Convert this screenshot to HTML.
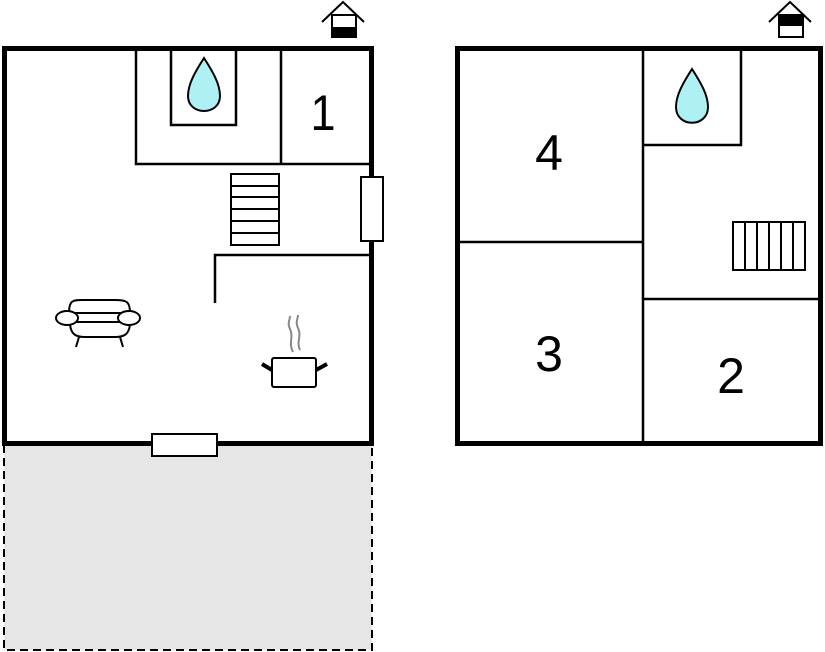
<!DOCTYPE html>
<html><head><meta charset="utf-8"><style>
html,body{margin:0;padding:0;background:#fff;}
svg{display:block;}
text{font-family:"Liberation Sans",Arial,sans-serif;}
</style></head><body>
<svg width="825" height="652" viewBox="0 0 825 652" xmlns="http://www.w3.org/2000/svg">
<!-- terrace -->
<rect x="4" y="445" width="368" height="205" fill="#e6e6e6"/>
<path d="M4 445 V650 H372 V445" fill="none" stroke="#000" stroke-width="2" stroke-dasharray="8,5"/>
<!-- left plan -->
<g fill="none" stroke="#000">
<rect x="4.5" y="48.5" width="367" height="395" stroke-width="5"/>
<path d="M136 48 V164 H372 M281 48 V164 M171 48 V125 H236 V48" stroke-width="2.5"/>
<path d="M215 303 V255 H372" stroke-width="2.5"/>
<rect x="231" y="174" width="48" height="71" fill="#fff" stroke-width="2"/>
<path d="M231 186 H279 M231 197 H279 M231 209 H279 M231 221 H279 M231 233 H279" stroke-width="2"/>
<rect x="361" y="177" width="22" height="64" fill="#fff" stroke-width="2"/>
<rect x="152" y="434" width="65" height="22" fill="#fff" stroke-width="2"/>
</g>
<path d="M204 58 C195 72 188 84 188 96 C188 116 220 116 220 96 C220 84 213 72 204 58 Z" fill="#aef0f4" stroke="#000" stroke-width="2"/>
<text x="323" y="130" font-size="50" text-anchor="middle" transform="translate(323 0) scale(0.9 1) translate(-323 0)">1</text>
<!-- sofa -->
<g fill="#fff" stroke="#000" stroke-width="2">
<path d="M69 313 C69 299 74 300 85 300 H115 C126 300 130 301 130 313 Z"/>
<path d="M70 322 C70 336 78 337 85 337 H115 C122 337 130 336 130 322 Z"/>
<ellipse cx="67" cy="318" rx="11" ry="7"/>
<ellipse cx="129" cy="318" rx="11" ry="7"/>
<path d="M78 322 H118 M79 337 L76 347 M120 337 L123 347" fill="none"/>
</g>
<!-- pot -->
<path d="M293 352 C288 343 294 337 290 329 C287 323 290 320 290 316 M300 350 C296 342 302 336 298 328 C295 322 298 319 298 315" fill="none" stroke="#888" stroke-width="2"/>
<rect x="272" y="358" width="44" height="29" rx="2" fill="#fff" stroke="#000" stroke-width="2"/>
<path d="M272 370 L262 364 M316 370 L327 364" stroke="#000" stroke-width="4"/>
<!-- house icons -->
<g fill="none" stroke="#000" stroke-width="2">
<path d="M322 22 L343 2 L364 22"/>
<rect x="332" y="15" width="24" height="22" fill="#fff"/>
<path d="M769 22 L790 2 L811 22"/>
<rect x="779" y="15" width="24" height="22" fill="#fff"/>
</g>
<rect x="332" y="27" width="24" height="11" fill="#000"/>
<rect x="779" y="15" width="24" height="11" fill="#000"/>
<!-- right plan -->
<g fill="none" stroke="#000">
<rect x="457.5" y="48.5" width="363" height="395" stroke-width="5"/>
<path d="M643 48 V443 M457 242 H643 M643 299 H822 M643 145 H741 V48" stroke-width="2.5"/>
<rect x="733" y="222" width="72" height="48" stroke-width="2"/>
<path d="M745 222 V270 M757 222 V270 M769 222 V270 M781 222 V270 M793 222 V270" stroke-width="2"/>
</g>
<path d="M692 69 C683 83 676 95 676 107 C676 128 708 128 708 107 C708 95 701 83 692 69 Z" fill="#aef0f4" stroke="#000" stroke-width="2"/>
<text x="549" y="170" font-size="50" text-anchor="middle">4</text>
<text x="549" y="371" font-size="50" text-anchor="middle">3</text>
<text x="731" y="393" font-size="50" text-anchor="middle">2</text>
</svg>
</body></html>
